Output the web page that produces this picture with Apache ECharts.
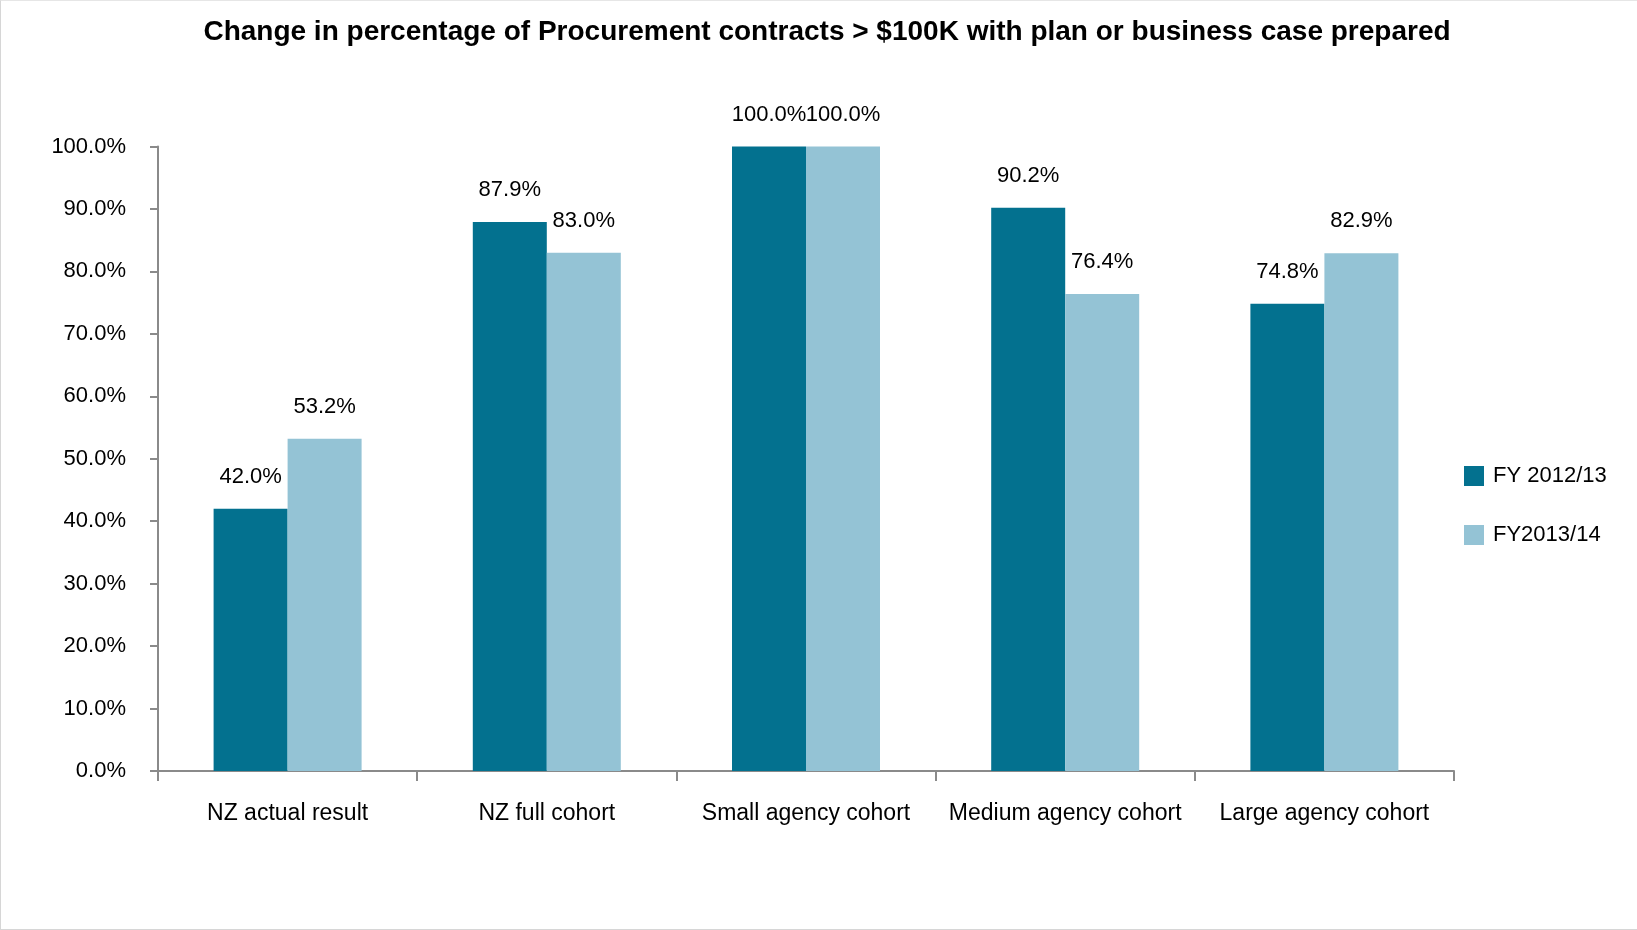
<!DOCTYPE html>
<html>
<head>
<meta charset="utf-8">
<script src="https://cdn.jsdelivr.net/npm/echarts@6/dist/echarts.min.js"></script>
<style>
  html, body { margin: 0; padding: 0; background: #fff; }
  #frame { position: absolute; left: 0; top: 0; width: 1636px; height: 928px;
           border-left: 1px solid #d6d6d6; border-top: 1px solid #e6e6e6; border-bottom: 1px solid #d6d6d6; }
  #chart { width: 1637px; height: 930px; }
</style>
</head>
<body>
<div id="frame"></div>
<div id="chart"></div>
<script>
// Cohorts along the horizontal axis
const categories = ['NZ actual result', 'NZ full cohort', 'Small agency cohort', 'Medium agency cohort', 'Large agency cohort'];
// Percentage of contracts > $100K with a plan or business case
const fy2012 = [42.0, 87.9, 100.0, 90.2, 74.8];
const fy2013 = [53.2, 83.0, 100.0, 76.4, 82.9];
const seriesNames = ['FY 2012/13', 'FY2013/14'];
const chartTitle = 'Change in percentage of Procurement contracts > $100K with plan or business case prepared';

const FONT = '"Liberation Sans", Arial, sans-serif';
const axisGrey = '#8a8a8a';

const chart = echarts.init(document.getElementById('chart'), null, { renderer: 'canvas' });

const labelStyle = {
  show: true,
  position: 'top',
  distance: 21,
  color: '#000',
  fontFamily: FONT,
  fontSize: 22,
  formatter: p => p.value.toFixed(1) + '%'
};

chart.setOption({
  animation: false,
  backgroundColor: 'transparent',
  title: {
    text: chartTitle,
    left: 822,
    textAlign: 'center',
    top: 13,
    textStyle: { fontFamily: FONT, fontSize: 28, fontWeight: 'bold', color: '#000' }
  },
  legend: {
    orient: 'vertical',
    left: 1459,
    top: 460,
    itemWidth: 20,
    itemHeight: 20,
    itemGap: 37,
    icon: 'rect',
    textStyle: { fontFamily: FONT, fontSize: 22, color: '#000', padding: [0, 0, 0, 4] },
    data: seriesNames
  },
  grid: { left: 158, right: 183, top: 146.5, bottom: 159, containLabel: false },
  xAxis: {
    type: 'category',
    data: categories,
    axisLine: { lineStyle: { color: axisGrey, width: 2 } },
    axisTick: { show: true, interval: 0, length: 10, lineStyle: { color: axisGrey, width: 2 } },
    axisLabel: { interval: 0, margin: 31, color: '#000', fontFamily: FONT, fontSize: 23 },
    splitLine: { show: false }
  },
  yAxis: {
    type: 'value',
    min: 0,
    max: 100,
    interval: 10,
    axisLine: { show: true, lineStyle: { color: axisGrey, width: 2 } },
    axisTick: { show: true, length: 8, lineStyle: { color: axisGrey, width: 2 } },
    axisLabel: { margin: 32, color: '#000', fontFamily: FONT, fontSize: 22,
                 formatter: v => v.toFixed(1) + '%' },
    splitLine: { show: false }
  },
  series: [
    {
      name: seriesNames[0],
      type: 'bar',
      data: fy2012,
      barWidth: 74,
      barGap: '0%',
      itemStyle: { color: '#03718f' },
      label: labelStyle
    },
    {
      name: seriesNames[1],
      type: 'bar',
      data: fy2013,
      barWidth: 74,
      barGap: '0%',
      itemStyle: { color: '#94c3d5' },
      label: labelStyle
    }
  ]
});
</script>
</body>
</html>
